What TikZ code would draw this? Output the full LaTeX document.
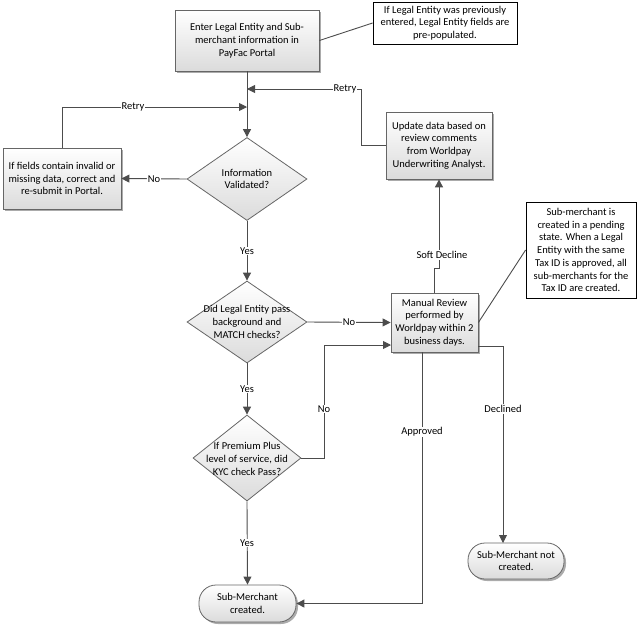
\documentclass[tikz,border=0pt]{standalone}
\usepackage{fontspec}
\setmainfont{Carlito}
\usetikzlibrary{arrows.meta,shapes.geometric,shadows}
\begin{document}
\begin{tikzpicture}[x=1pt,y=-1pt,
  font=\fontsize{10.5}{12.7}\selectfont,
  shd/.style={drop shadow={shadow xshift=2pt,shadow yshift=-2pt,fill=black!55,opacity=0.6}},
  proc/.style={draw=black!60, line width=0.8pt, top color=white, bottom color=black!14, shd, inner sep=0pt, align=center},
  term/.style={proc, rounded corners=17pt},
  notebox/.style={draw=black, line width=0.8pt, fill=white, inner sep=0pt, align=center},
  dec/.style={draw=black!60, line width=0.8pt, top color=white, bottom color=black!14, shape=diamond, inner sep=0pt},
  dtext/.style={align=center, inner sep=0pt},
  conn/.style={draw=black!70, line width=0.9pt},
  arr/.style={conn, -{Triangle[length=8pt,width=8pt]}},
  lbl/.style={fill=white, inner sep=1pt}
]
\useasboundingbox (0,0) rectangle (638,625);

% nodes
\node[proc, minimum width=144pt, minimum height=61pt] (enter) at (247,40.5)
  {Enter Legal Entity and Sub-\\merchant information in\\PayFac Portal};
\node[notebox, minimum width=144pt, minimum height=42pt] (note1) at (445,23)
  {If Legal Entity was previously\\entered, Legal Entity fields are\\pre-populated.};
\node[dec, minimum width=120pt, minimum height=83pt] (d1) at (247,179) {};
\node[dtext] (d1t) at (247,179) {Information\\Validated?};
\node[proc, minimum width=118pt, minimum height=61pt] (fix) at (62,178.5)
  {If fields contain invalid or\\missing data, correct and\\re-submit in Portal.};
\node[dec, minimum width=120pt, minimum height=82pt] (d2) at (247,322) {};
\node[dtext] (d2t) at (247,322) {Did Legal Entity pass\\background and\\MATCH checks?};
\node[dec, minimum width=108pt, minimum height=86pt] (d3) at (247,458) {};
\node[dtext] (d3t) at (247,459) {If Premium Plus\\level of service, did\\KYC check Pass?};
\node[term, minimum width=97pt, minimum height=37pt] (term1) at (247.5,603.5)
  {Sub-Merchant\\created.};
\node[proc, minimum width=87pt, minimum height=59pt] (review) at (434.5,322.5)
  {Manual Review\\performed by\\Worldpay within 2\\business days.};
\node[proc, minimum width=106pt, minimum height=67pt] (update) at (439,145.5)
  {Update data based on\\review comments\\from Worldpay\\Underwriting Analyst.};
\node[notebox, minimum width=110pt, minimum height=96pt] (note2) at (581,250)
  {Sub-merchant is\\created in a pending\\state. When a Legal\\Entity with the same\\Tax ID is approved, all\\sub-merchants for the\\Tax ID are created.};
\node[term, minimum width=96pt, minimum height=36pt] (term2) at (516,561)
  {Sub-Merchant not\\created.};

% helper coordinates
\coordinate (jr) at (247,89);
\coordinate (jl) at (247,107);
\coordinate (rv2) at (391,345);
\coordinate (ra) at (422,352);
\coordinate (rd) at (478,346);
\coordinate (td) at (503,543);

% connectors
\draw[conn] (enter.east) -- (note1.west);
\draw[conn] (review.east) -- (note2.west);
\draw[arr] (enter.south) -- (d1.north);
\draw[arr] (update.west) -- ++(-24,0) |- (jr);
\draw[arr] (fix.north) |- (jl);
\draw[arr] (d1.west) -- (fix.east);
\draw[arr] (d1.south) -- (d2.north);
\draw[arr] (d2.east) -- (review.west);
\draw[arr] (d2.south) -- (d3.north);
\draw[arr] (d3.east) -- (324,458) -- (324,345) -- (rv2);
\draw[arr] (d3.south) -- (term1.north);
\draw[arr] (ra) |- (term1.east);
\draw[arr] (rd) -| (td);
\draw[arr] (review.north) -- ++(0,-24) -| (update.south);

% labels
\node[lbl] (l1) at (345,89) {Retry};
\node[lbl] (l2) at (133,107) {Retry};
\node[lbl] (l3) at (154,179) {No};
\node[lbl] (l4) at (247,251) {Yes};
\node[lbl] (l5) at (349,322) {No};
\node[lbl] (l6) at (247,389) {Yes};
\node[lbl] (l7) at (324,409) {No};
\node[lbl] (l8) at (247,543) {Yes};
\node[lbl] (l9) at (422,432) {Approved};
\node[lbl] (l10) at (503,409) {Declined};
\node[lbl] (l11) at (442,255) {Soft Decline};
\end{tikzpicture}
\end{document}
